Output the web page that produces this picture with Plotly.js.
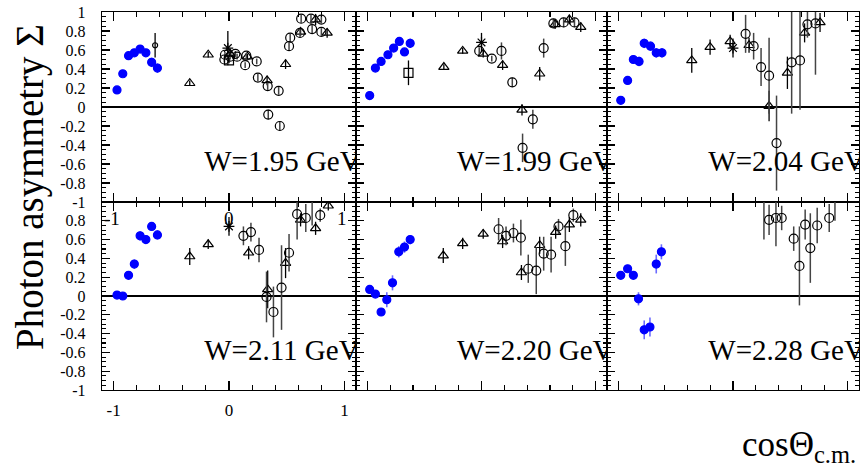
<!DOCTYPE html>
<html>
<head>
<meta charset="utf-8">
<script src="https://cdn.plot.ly/plotly-3.0.1.min.js"></script>
<style>html,body{margin:0;padding:0;background:#fff;}#chart{width:860px;height:470px;}</style>
</head>
<body>
<div id="chart"></div>
<script>
// ---------- data ----------
const panelLabels = ["W=1.95 GeV","W=1.99 GeV","W=2.04 GeV","W=2.11 GeV","W=2.20 GeV","W=2.28 GeV"];

// W = 1.95 GeV
const blue195x = [-0.97,-0.92,-0.87,-0.82,-0.77,-0.72,-0.67,-0.62];
const blue195y = [0.18,0.35,0.54,0.57,0.61,0.57,0.47,0.41];
const blue195e = [0.03,0.03,0.03,0.04,0.04,0.04,0.05,0.05];
const circ195x = [-0.04,-0.035,0.01,0.055,0.07,0.15,0.14,0.24,0.25,0.335,0.43,0.34,0.44,0.52,0.53,0.615,0.625,0.71,0.72,0.80,0.80];
const circ195y = [0.50,0.55,0.53,0.56,0.53,0.54,0.44,0.48,0.31,0.22,0.17,-0.08,-0.20,0.64,0.73,0.78,0.93,0.93,0.82,0.92,0.79];
const circ195e = [0.03,0.03,0.03,0.03,0.03,0.03,0.03,0.03,0.04,0.04,0.04,0.05,0.05,0.04,0.04,0.04,0.04,0.04,0.04,0.04,0.04];
const tri195x = [-0.34,-0.18,0.01,0.16,0.33,0.49,0.62,0.75,0.85];
const tri195y = [0.25,0.55,0.56,0.53,0.28,0.45,0.79,0.92,0.78];
const tri195e = [0.03,0.03,0.03,0.03,0.05,0.05,0.04,0.06,0.05];
const star195x = [-0.01], star195y = [0.62], star195e = [0.18];
const sq195x = [0.0], sq195y = [0.49], sq195e = [0.03];
const small195x = [-0.64], small195y = [0.65], small195e = [0.13];

// W = 1.99 GeV
const blue199x = [-0.98,-0.93,-0.88,-0.82,-0.77,-0.72,-0.675,-0.625];
const blue199y = [0.12,0.41,0.48,0.55,0.62,0.69,0.58,0.67];
const blue199e = [0.03,0.03,0.03,0.03,0.04,0.04,0.04,0.05];
const circ199x = [-0.02,0.09,0.175,0.27,0.36,0.45,0.545,0.63,0.72,0.815];
const circ199y = [0.59,0.51,0.59,0.26,-0.43,-0.13,0.62,0.88,0.89,0.89];
const circ199e = [0.04,0.03,0.09,0.05,0.15,0.10,0.10,0.05,0.05,0.05];
const tri199x = [-0.33,-0.165,0.015,0.185,0.355,0.51,0.645,0.77,0.87];
const tri199y = [0.42,0.59,0.56,0.44,-0.03,0.35,0.87,0.92,0.84];
const tri199e = [0.03,0.03,0.04,0.05,0.06,0.07,0.05,0.05,0.05];
const star199x = [0.0], star199y = [0.68], star199e = [0.10];
const sq199x = [-0.64], sq199y = [0.36], sq199e = [0.13];

// W = 2.04 GeV
const blue204x = [-0.98,-0.92,-0.87,-0.82,-0.775,-0.72,-0.67,-0.62];
const blue204y = [0.07,0.28,0.50,0.48,0.67,0.64,0.57,0.57];
const blue204e = [0.04,0.04,0.04,0.05,0.05,0.05,0.05,0.05];
const tri204x = [-0.36,-0.20,-0.025,0.14,0.315,0.475,0.625,0.76];
const tri204y = [0.49,0.63,0.69,0.65,0.01,0.36,0.78,0.89];
const tri204e = [0.13,0.08,0.07,0.08,0.16,0.17,0.10,0.10];
const circ204x = [0.11,0.18,0.245,0.315,0.38,0.512,0.585,0.65,0.72];
const circ204y = [0.77,0.64,0.42,0.33,-0.38,0.47,0.49,0.87,0.88];
const circ204e = [0.20,0.14,0.20,0.40,0.50,0.54,0.52,0.14,0.54];
const star204x = [0.0], star204y = [0.62], star204e = [0.10];

// W = 2.11 GeV
const blue211x = [-0.97,-0.92,-0.87,-0.82,-0.77,-0.72,-0.67,-0.62];
const blue211y = [0.01,0.0,0.22,0.34,0.64,0.60,0.74,0.65];
const blue211e = [0.03,0.03,0.04,0.05,0.05,0.04,0.04,0.05];
const tri211x = [-0.34,-0.18,0.17,0.335,0.49,0.62,0.75,0.86];
const tri211y = [0.42,0.55,0.46,0.07,0.35,0.81,0.72,0.96];
const tri211e = [0.09,0.05,0.07,0.20,0.16,0.07,0.07,0.05];
const circ211x = [0.125,0.19,0.26,0.325,0.385,0.455,0.52,0.59,0.665,0.79,0.72];
const circ211y = [0.64,0.68,0.49,-0.01,-0.17,0.09,0.46,0.87,0.83,0.86,1.12];
const circ211e = [0.10,0.10,0.13,0.27,0.27,0.45,0.20,0.27,0.15,0.07,0.37];
const star211x = [0.0], star211y = [0.74], star211e = [0.10];

// W = 2.20 GeV
const blue220x = [-0.98,-0.93,-0.88,-0.83,-0.78,-0.725,-0.675,-0.625];
const blue220y = [0.07,0.02,-0.17,-0.04,0.14,0.47,0.52,0.60];
const blue220e = [0.03,0.03,0.04,0.08,0.08,0.06,0.06,0.05];
const tri220x = [-0.335,-0.165,0.015,0.185,0.35,0.51,0.65,0.77,0.87];
const tri220y = [0.43,0.56,0.66,0.58,0.25,0.54,0.68,0.76,0.81];
const tri220e = [0.08,0.06,0.05,0.07,0.08,0.09,0.07,0.08,0.07];
const circ220x = [0.15,0.215,0.28,0.345,0.41,0.48,0.545,0.61,0.675,0.735,0.805];
const circ220y = [0.71,0.64,0.67,0.62,0.29,0.27,0.45,0.44,0.74,0.53,0.86];
const circ220e = [0.12,0.10,0.10,0.19,0.15,0.25,0.18,0.19,0.08,0.21,0.07];

// W = 2.28 GeV
const blue228x = [-0.98,-0.92,-0.87,-0.825,-0.775,-0.725,-0.67,-0.625];
const blue228y = [0.22,0.29,0.22,-0.03,-0.36,-0.33,0.34,0.47];
const blue228e = [0.04,0.04,0.04,0.07,0.10,0.10,0.10,0.08];
const circ228x = [0.315,0.375,0.425,0.53,0.58,0.63,0.675,0.735,0.84,0.27,0.89];
const circ228y = [0.81,0.83,0.83,0.61,0.32,0.76,0.51,0.75,0.83,1.15,1.10];
const circ228e = [0.16,0.30,0.13,0.13,0.42,0.16,0.37,0.19,0.15,0.55,0.30];

const yTickValsTop = [-1,-0.8,-0.6,-0.4,-0.2,0,0.2,0.4,0.6,0.8,1];
const yTickTextTop = ["-1","-0.8","-0.6","-0.4","-0.2","0","0.2","0.4","0.6","0.8","1"];
const yTickValsBottom = [-1,-0.8,-0.6,-0.4,-0.2,0,0.2,0.4,0.6,0.8];
const yTickTextBottom = ["-1","-0.8","-0.6","-0.4","-0.2","0","0.2","0.4","0.6","0.8"];
const xTickVals = [-1,0,1];
const xTickText = ["-1","0","1"];
const strayLabels = ["-1","0","1"];

// ---------- drawing ----------
const W = 860, H = 470;
const colPx = [[102,356],[356,607],[607,859]];
const rowPx = [[12,202],[202,390]];
const FONT = "Liberation Serif";

const panels = [
  {blue:[blue195x,blue195y,blue195e], circ:[circ195x,circ195y,circ195e], tri:[tri195x,tri195y,tri195e], star:[star195x,star195y,star195e], sq:[sq195x,sq195y,sq195e], small:[small195x,small195y,small195e]},
  {blue:[blue199x,blue199y,blue199e], circ:[circ199x,circ199y,circ199e], tri:[tri199x,tri199y,tri199e], star:[star199x,star199y,star199e], sq:[sq199x,sq199y,sq199e]},
  {blue:[blue204x,blue204y,blue204e], circ:[circ204x,circ204y,circ204e], tri:[tri204x,tri204y,tri204e], star:[star204x,star204y,star204e]},
  {blue:[blue211x,blue211y,blue211e], circ:[circ211x,circ211y,circ211e], tri:[tri211x,tri211y,tri211e], star:[star211x,star211y,star211e]},
  {blue:[blue220x,blue220y,blue220e], circ:[circ220x,circ220y,circ220e], tri:[tri220x,tri220y,tri220e]},
  {blue:[blue228x,blue228y,blue228e], circ:[circ228x,circ228y,circ228e]}
];

const styles = {
  tri:   {symbol:'triangle-up-open', size:9, color:'#000', ecol:'#000', ew:1.3},
  circ:  {symbol:'circle-open', size:9, color:'#000', ecol:'#444', ew:1.5},
  star:  {symbol:'asterisk-open', size:9, color:'#000', ecol:'#000', ew:1.3},
  sq:    {symbol:'square-open', size:9, color:'#000', ecol:'#000', ew:1.3},
  small: {symbol:'circle-open', size:5, color:'#000', ecol:'#000', ew:1.3},
  blue:  {symbol:'circle', size:8, color:'#0000ff', ecol:'#6b6bff', ew:1.6}
};
const order = ['tri','circ','star','sq','small','blue'];

const traces = [];
const layout = {
  width: W, height: H,
  margin: {l:0, r:0, t:0, b:0},
  paper_bgcolor: '#fff', plot_bgcolor: '#fff',
  showlegend: false,
  font: {family: FONT, color: '#000'},
  annotations: [],
  shapes: []
};

panels.forEach((p, i) => {
  const col = i % 3, row = Math.floor(i / 3);
  const sfx = i === 0 ? '' : String(i + 1);
  const xa = 'x' + sfx, ya = 'y' + sfx;
  order.forEach(k => {
    if (!p[k]) return;
    const s = styles[k];
    traces.push({
      type: 'scatter', mode: 'markers', xaxis: xa, yaxis: ya,
      x: p[k][0], y: p[k][1],
      error_y: {type: 'data', array: p[k][2], visible: true, color: s.ecol, thickness: s.ew, width: 0},
      marker: {symbol: s.symbol, size: s.size, color: s.color, line: {color: s.color, width: 1.2}},
      cliponaxis: true, hoverinfo: 'skip'
    });
  });
  traces.push({
    type: 'scatter', mode: 'text', xaxis: xa, yaxis: ya,
    x: [-0.215], y: [-0.6], text: [panelLabels[i]], textposition: 'middle right',
    textfont: {family: FONT, size: 29, color: '#000'}, cliponaxis: true, hoverinfo: 'skip'
  });
  const xd = [colPx[col][0] / W, colPx[col][1] / W];
  const yd = [1 - rowPx[row][1] / H, 1 - rowPx[row][0] / H];
  layout['xaxis' + sfx] = {
    domain: xd, anchor: ya, range: [-1.1, 1.1],
    showline: true, linecolor: '#000', linewidth: 1.2, mirror: 'allticks',
    ticks: 'inside', ticklen: 9, tickwidth: 1.1, tickcolor: '#000',
    tickmode: 'array', tickvals: xTickVals, ticktext: xTickText,
    minor: {ticks: 'inside', ticklen: 5, tickwidth: 1.1, tickcolor: '#000', tickmode: 'linear', tick0: 0, dtick: 0.2},
    showticklabels: (row === 1 && col === 0),
    tickfont: {family: FONT, size: 17, color: '#000'},
    ticklabelstandoff: 4,
    showgrid: false, zeroline: false, fixedrange: true
  };
  layout['yaxis' + sfx] = {
    domain: yd, anchor: xa, range: [-1, 1],
    showline: true, linecolor: '#000', linewidth: 1.2, mirror: 'allticks',
    ticks: 'inside', ticklen: 8, tickwidth: 1.1, tickcolor: '#000',
    tickmode: 'array',
    tickvals: row === 0 ? yTickValsTop : yTickValsBottom,
    ticktext: row === 0 ? yTickTextTop : yTickTextBottom,
    minor: {ticks: 'inside', ticklen: 4, tickwidth: 1.1, tickcolor: '#000', tickmode: 'linear', tick0: 0, dtick: 0.05},
    showticklabels: col === 0,
    tickfont: {family: FONT, size: 16, color: '#000'},
    ticklabelstandoff: 12,
    showgrid: false, zeroline: true, zerolinecolor: '#000', zerolinewidth: 1.8, fixedrange: true
  };
});

// stray x labels inside bottom-left panel
[[-1, 112], [0, 229], [1, 342]].forEach((v, j) => {
  layout.annotations.push({
    xref: 'paper', yref: 'paper', x: v[1] / W, y: 1 - 218 / H,
    text: strayLabels[j], showarrow: false, xanchor: 'center', yanchor: 'middle',
    font: {family: FONT, size: 19, color: '#000'}
  });
});

layout.annotations.push({
  xref: 'paper', yref: 'paper', x: 30 / W, y: 1 - 187 / H,
  text: 'Photon asymmetry Σ', textangle: -90, showarrow: false,
  xanchor: 'center', yanchor: 'middle',
  font: {family: FONT, size: 39, color: '#000'}
});
layout.annotations.push({
  xref: 'paper', yref: 'paper', x: 858 / W, y: 1 - 446 / H,
  text: 'cosΘ<sub>c.m.</sub>', showarrow: false,
  xanchor: 'right', yanchor: 'middle',
  font: {family: FONT, size: 35, color: '#000'}
});

Plotly.newPlot('chart', traces, layout, {staticPlot: true, displayModeBar: false});
</script>
</body>
</html>
